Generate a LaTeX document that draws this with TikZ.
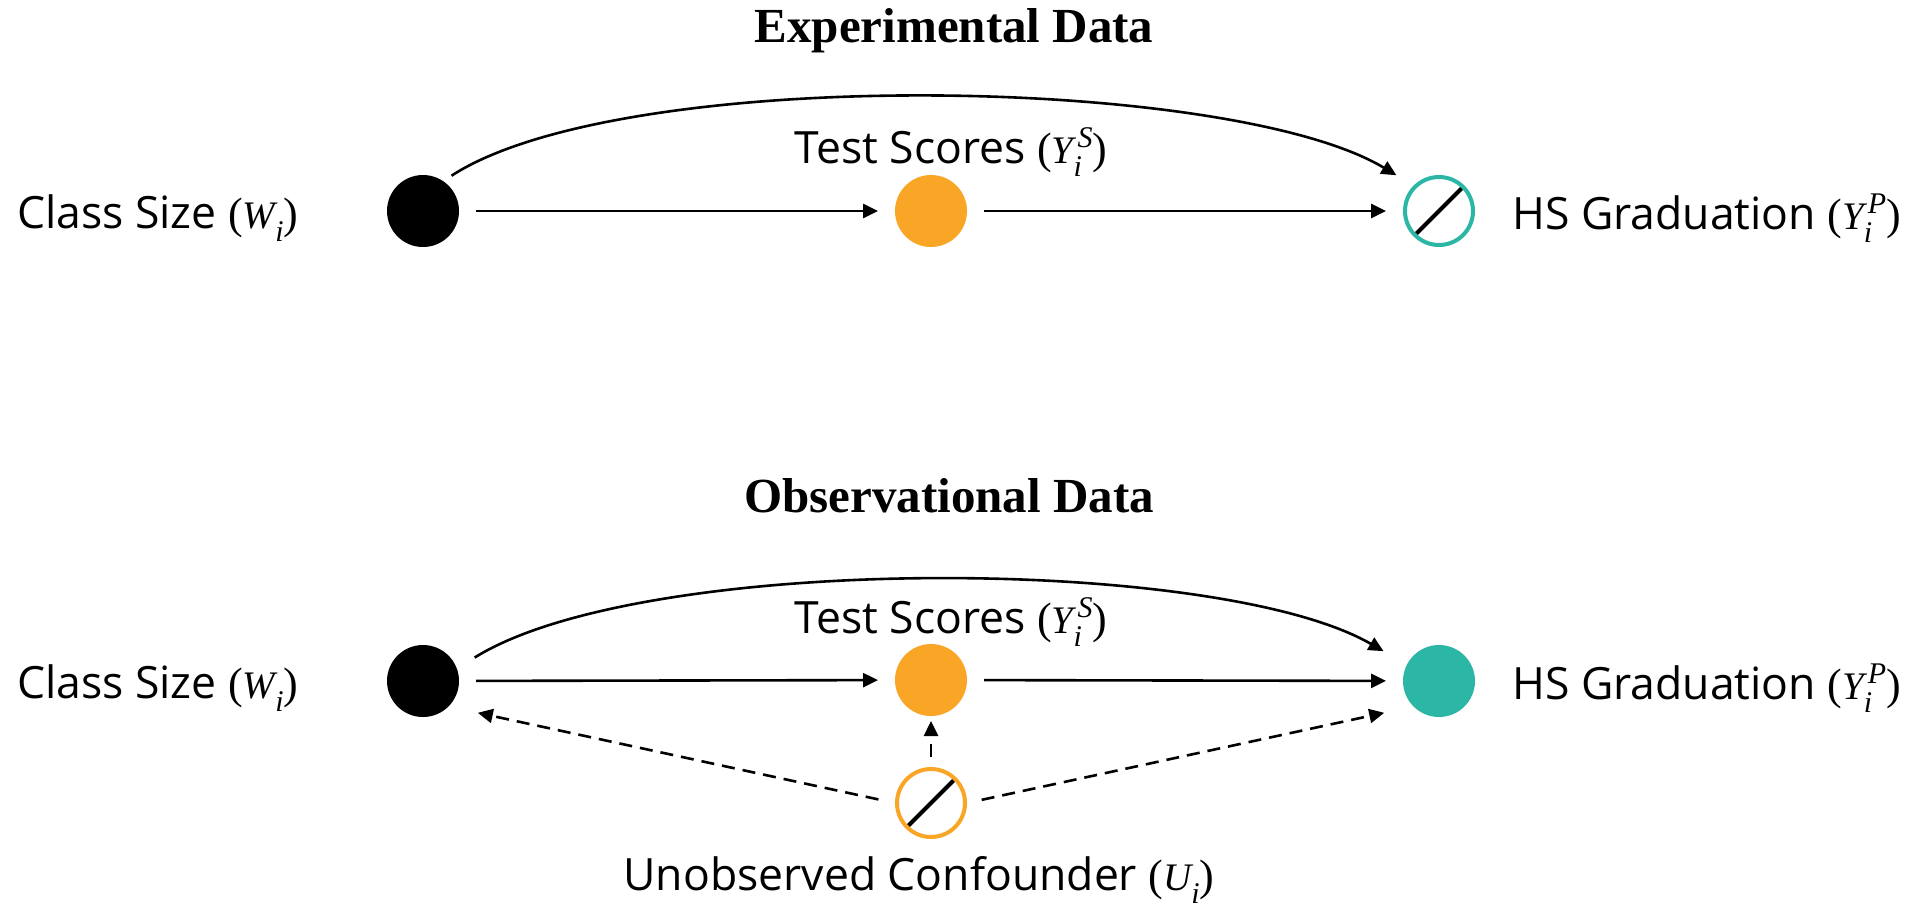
\documentclass[tikz,border=0pt]{standalone}
\usepackage{fontspec}
\setmainfont{Open Sans}
\newfontfamily\serifface{Liberation Serif}
\usetikzlibrary{arrows.meta}
\definecolor{gorange}{RGB}{249,166,39}
\definecolor{gteal}{RGB}{43,182,165}
\newcommand\mvar[1]{{\serifface\itshape\fontsize{39}{39}\selectfont #1}}
\newcommand\mscr[1]{{\serifface\itshape\fontsize{30}{30}\selectfont #1}}
\newcommand\lpar{{\serifface\fontsize{44}{44}\selectfont(}}
\newcommand\rpar{{\serifface\fontsize{44}{44}\selectfont)}}
\newcommand\withsub[2]{\lpar\mvar{#1}\raisebox{-13pt}{\mscr{#2}}\rpar}
\newcommand\withsubsup[3]{\lpar\mvar{#1}\makebox[0pt][l]{\raisebox{-13pt}{\mscr{#2}}}\hspace{4pt}\raisebox{16pt}{\mscr{#3}}\rpar}
\begin{document}
\begin{tikzpicture}[x=1pt,y=1pt,
  dot/.style={circle,inner sep=0pt,outer sep=0pt,minimum size=72pt,fill=#1},
  hollow/.style={circle,inner sep=0pt,outer sep=2pt,minimum size=68pt,line width=4pt,draw=#1,fill=white,
     path picture={\draw[black,line width=4pt] (path picture bounding box.south west) -- (path picture bounding box.north east);}},
  lbl/.style={inner sep=0pt,font=\fontsize{44.5}{50}\selectfont},
  ttl/.style={inner sep=0pt,font=\serifface\bfseries\fontsize{49}{55}\selectfont},
  arr/.style={line width=2.6pt,-{Triangle[length=15pt,width=14pt]}},
  darr/.style={arr,dash pattern=on 13pt off 8pt},
]
\path[use as bounding box] (0,0) rectangle (1921,-906);

% titles
\node[ttl,anchor=base] (t1) at (954,-42) {Experimental Data};
\node[ttl,anchor=base] (t2) at (949,-512) {Observational Data};

% top row
\node[dot=black] (W1) at (423,-211) {};
\node[dot=gorange] (S1) at (931,-211) {};
\node[hollow=gteal] (Y1) at (1439,-211) {};
\node[lbl,anchor=base west] (lw1) at (17,-228) {Class Size \withsub{W}{i}};
\node[lbl,anchor=base] (ls1) at (951,-163) {Test Scores \withsubsup{Y}{i}{S}};
\node[lbl,anchor=base west] (ly1) at (1512,-229) {HS Graduation \withsubsup{Y}{i}{P}};

\draw[arr,shorten <=17pt,shorten >=17pt] (W1) -- (S1);
\draw[arr,shorten <=17pt,shorten >=17pt] (S1) -- (Y1);
\draw[arr,shorten <=10pt,shorten >=20pt] (W1.56) .. controls +(33:214) and +(149:214) .. (Y1.135);

% bottom row
\node[dot=black] (W2) at (423,-681) {};
\node[dot=gorange] (S2) at (931,-680) {};
\node[dot=gteal] (Y2) at (1439,-681) {};
\node[hollow=gorange] (U) at (931,-803) {};
\node[lbl,anchor=base west] (lw2) at (17,-698) {Class Size \withsub{W}{i}};
\node[lbl,anchor=base] (ls2) at (951,-633) {Test Scores \withsubsup{Y}{i}{S}};
\node[lbl,anchor=base west] (ly2) at (1512,-699) {HS Graduation \withsubsup{Y}{i}{P}};
\node[lbl,anchor=base] (lu) at (919,-890) {Unobserved Confounder \withsub{U}{i}};

\draw[arr,shorten <=17pt,shorten >=17pt] (W2) -- (S2);
\draw[arr,shorten <=17pt,shorten >=17pt] (S2) -- (Y2);
\draw[arr,shorten <=21pt,shorten >=27pt] (W2.20) .. controls +(32:219) and +(150:219) .. (Y2.153);

\draw[darr,shorten <=10pt,shorten >=5pt] (U) -- (S2);
\draw[darr,shorten <=15pt,shorten >=30pt] (U.east) -- (Y2.south west);
\draw[darr,shorten <=17pt,shorten >=30pt] (U.west) -- (W2.south east);
\end{tikzpicture}
\end{document}
